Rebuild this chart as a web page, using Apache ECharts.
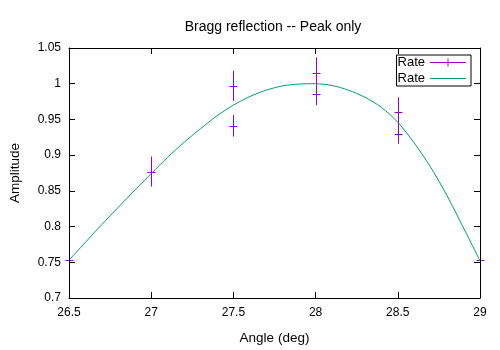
<!DOCTYPE html>
<html>
<head>
<meta charset="utf-8">
<script src="https://cdn.jsdelivr.net/npm/echarts@6/dist/echarts.min.js"></script>
<style>html,body{margin:0;padding:0;background:#fff}#c{width:500px;height:350px}</style>
</head>
<body>
<div id="c"></div>
<script>
const titleText = 'Bragg reflection -- Peak only';
const xName = 'Angle (deg)';
const yName = 'Amplitude';
const xTicks = [26.5, 27, 27.5, 28, 28.5, 29];
const yTicks = [0.7, 0.75, 0.8, 0.85, 0.9, 0.95, 1, 1.05];

// measured points with error bars
const angles = [26.5, 27, 27.5, 27.5, 28, 28, 28.5, 28.5, 29];
const rates  = [0.753, 0.877, 0.997, 0.941, 1.015, 0.985, 0.961, 0.930, 0.753];
const errors = [0.015, 0.021, 0.021, 0.015, 0.022, 0.015, 0.020, 0.014, 0.015];

// fitted curve
const fitAngles = [26.5, 26.6, 26.7, 26.8, 26.9, 27.0, 27.1, 27.2, 27.3, 27.4, 27.5, 27.6, 27.7, 27.8, 27.9, 28.0, 28.1, 28.2, 28.3, 28.4, 28.5, 28.6, 28.7, 28.8, 28.9, 29.0];
const fitRates  = [0.753, 0.778, 0.803, 0.827, 0.851, 0.874, 0.897, 0.918, 0.937, 0.955, 0.970, 0.982, 0.991, 0.997, 0.9995, 1.000, 0.9975, 0.991, 0.981, 0.967, 0.946, 0.917, 0.883, 0.843, 0.798, 0.752];

const FONT = 'Liberation Sans';
const PURPLE = '#9400d3';
const GREEN = '#009e73';

const errData = angles.map((a, i) => [a, rates[i], errors[i]]);
const fitData = fitAngles.map((a, i) => [a, fitRates[i]]);

const chart = echarts.init(document.getElementById('c'), null, {renderer: 'canvas'});
const fmt = v => String(parseFloat(v.toFixed(2)));
const baseX = {type: 'value', min: xTicks[0], max: xTicks[xTicks.length-1], interval: 0.5, splitLine: {show: false}, z: 5,
  axisLine: {show: true, lineStyle: {color: '#000', width: 1}},
  axisTick: {show: true, inside: true, length: 6, lineStyle: {color: '#000'}}};
const baseY = {type: 'value', min: yTicks[0], max: yTicks[yTicks.length-1], interval: 0.05, splitLine: {show: false}, z: 5,
  axisLine: {show: true, lineStyle: {color: '#000', width: 1}},
  axisTick: {show: true, inside: true, length: 6, lineStyle: {color: '#000'}}};

chart.setOption({
  animation: false,
  backgroundColor: '#fff',
  textStyle: {fontFamily: FONT},
  title: {text: titleText, left: 268, top: 15, textAlign: 'center',
    textStyle: {fontFamily: FONT, fontSize: 14, fontWeight: 'normal', color: '#000'}},
  grid: {left: 68, right: 20, top: 48, bottom: 50},
  legend: {
    orient: 'vertical', right: 29, top: 55, align: 'right',
    borderColor: '#000', borderWidth: 1, borderRadius: 0, padding: [1, 5, 1, 1],
    itemWidth: 36, itemHeight: 10, itemGap: 3,
    textStyle: {fontFamily: FONT, fontSize: 13, color: '#000'},
    formatter: n => n.trim(),
    data: [
      {name: 'Rate', icon: 'path://M0,4.5h36v1h-36z M17.5,1h1v8h-1z'},
      {name: 'Rate ', icon: 'path://M0,4.5h36v1h-36z'}
    ]
  },
  xAxis: [
    Object.assign({}, baseX, {position: 'bottom', name: xName, nameLocation: 'middle', nameGap: 33,
      nameTextStyle: {fontFamily: FONT, fontSize: 13.5, color: '#000'},
      axisLabel: {show: true, margin: 9, color: '#000', fontFamily: FONT, fontSize: 12, formatter: fmt}}),
    Object.assign({}, baseX, {position: 'top', axisLabel: {show: false}})
  ],
  yAxis: [
    Object.assign({}, baseY, {position: 'left', name: yName, nameLocation: 'middle', nameGap: 47, nameRotate: 90,
      nameTextStyle: {fontFamily: FONT, fontSize: 13.5, color: '#000'},
      axisLabel: {show: true, margin: 8, color: '#000', fontFamily: FONT, fontSize: 12, formatter: fmt}}),
    Object.assign({}, baseY, {position: 'right', axisLabel: {show: false}})
  ],
  series: [
    {
      name: 'Rate', type: 'custom', xAxisIndex: 0, yAxisIndex: 0, z: 2,
      itemStyle: {color: PURPLE},
      data: errData,
      renderItem: function (params, api) {
        const x = api.value(0), y = api.value(1), e = api.value(2);
        const c = api.coord([x, y]);
        const top = api.coord([x, y + e]);
        const bot = api.coord([x, y - e]);
        const st = {stroke: PURPLE, lineWidth: 1};
        const cx = Math.round(c[0]) + 0.5, cy = Math.round(c[1]) + 0.5;
        return {type: 'group', children: [
          {type: 'line', shape: {x1: cx, y1: top[1], x2: cx, y2: bot[1]}, style: st},
          {type: 'line', shape: {x1: cx - 4, y1: cy, x2: cx + 4, y2: cy}, style: st}
        ]};
      }
    },
    {
      name: 'Rate ', type: 'line', xAxisIndex: 0, yAxisIndex: 0, z: 3,
      data: fitData, smooth: 0.3, symbol: 'none', showSymbol: false,
      lineStyle: {color: GREEN, width: 1}, itemStyle: {color: GREEN}
    }
  ]
});
</script>
</body>
</html>
